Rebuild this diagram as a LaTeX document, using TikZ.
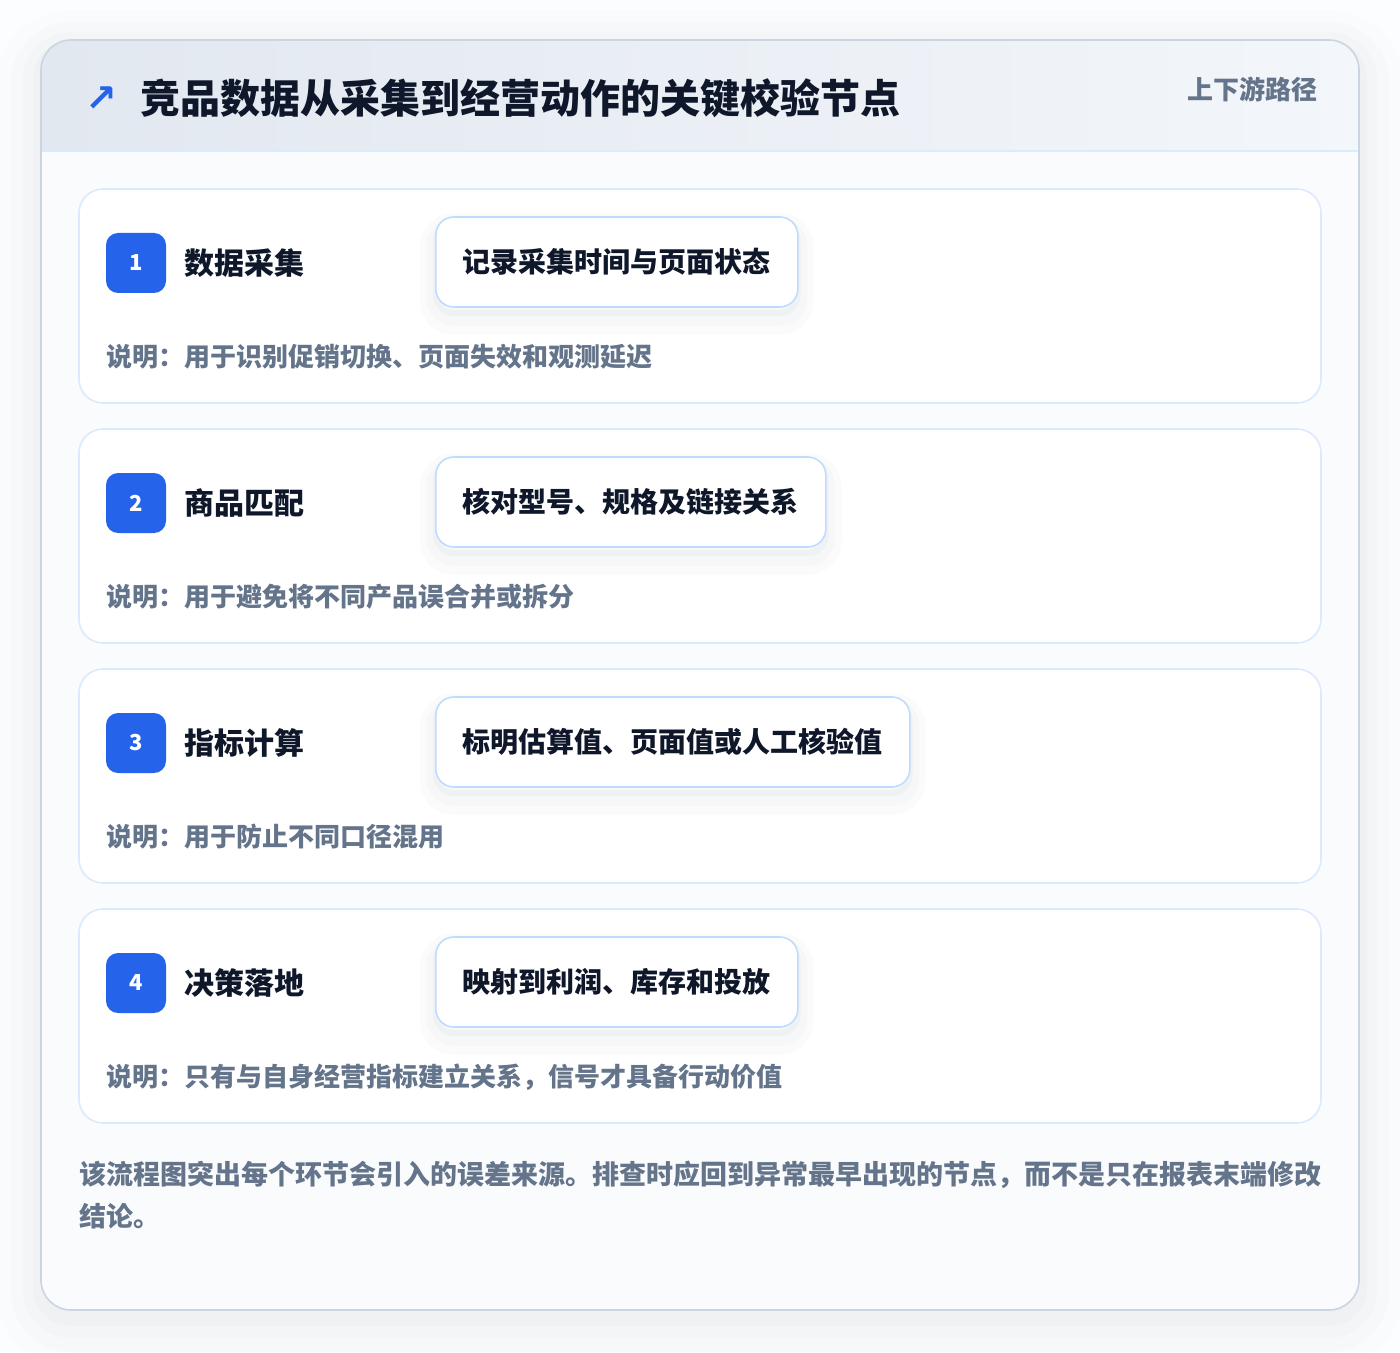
\documentclass[tikz,border=0pt]{standalone}
\usepackage{fontspec}
\setmainfont{Noto Sans CJK SC}
\newfontfamily\symfont{DejaVu Sans}
\usepackage{tikz}
\usetikzlibrary{positioning}

\definecolor{pagebg}{HTML}{FCFDFE}
\definecolor{bodybg}{HTML}{FAFBFD}
\definecolor{headl}{HTML}{E2E8F0}
\definecolor{headr}{HTML}{F3F6FA}
\definecolor{panelline}{HTML}{CBD5E1}
\definecolor{sepline}{HTML}{DBEAFE}
\definecolor{cardline}{HTML}{DBEAFE}
\definecolor{chipline}{HTML}{BFDBFE}
\definecolor{badgeblue}{HTML}{2563EB}
\definecolor{titleink}{HTML}{0F172A}
\definecolor{noteink}{HTML}{64748B}
\definecolor{shadowink}{HTML}{475569}

\begin{document}
\begin{tikzpicture}[x=0.5pt,y=-0.5pt,
panel/.style={fill=bodybg,rounded corners=15pt,minimum width=659pt,minimum height=635pt,inner sep=0pt,
  preaction={draw=shadowink,draw opacity=0.012,line width=44pt,transform canvas={yshift=-7pt}},
  preaction={draw=shadowink,draw opacity=0.014,line width=30pt,transform canvas={yshift=-6pt}},
  preaction={draw=shadowink,draw opacity=0.016,line width=18pt,transform canvas={yshift=-5pt}},
  preaction={draw=shadowink,draw opacity=0.02,line width=8pt,transform canvas={yshift=-4pt}}},
cardbox/.style={draw=cardline,line width=0.8pt,fill=white,rounded corners=12pt,minimum width=621pt,minimum height=107pt,inner sep=0pt},
badge/.style={fill=badgeblue,rounded corners=6pt,minimum size=30pt,inner sep=0pt,text=white,font=\bfseries\fontsize{11}{13}\selectfont},
steptitle/.style={anchor=west,inner sep=0pt,text=titleink,font=\bfseries\fontsize{15}{18}\selectfont},
chip/.style={draw=chipline,line width=0.8pt,fill=white,rounded corners=9pt,anchor=west,minimum height=45pt,inner xsep=13.5pt,
  text=titleink,font=\bfseries\fontsize{14}{17}\selectfont,
  preaction={draw=shadowink,draw opacity=0.018,line width=16pt,transform canvas={yshift=-6pt}},
  preaction={draw=shadowink,draw opacity=0.022,line width=9pt,transform canvas={yshift=-5pt}},
  preaction={draw=shadowink,draw opacity=0.03,line width=3pt,transform canvas={yshift=-3pt}}},
note/.style={anchor=west,inner sep=0pt,text=noteink,font=\bfseries\fontsize{13}{16}\selectfont}]

\fill[pagebg] (0,0) rectangle (1400,1352);
\useasboundingbox (0,0) rectangle (1400,1352);

% keret + fejlec
\node[panel] (panel) at (700,675) {};
\begin{scope}
\clip[rounded corners=15pt] (41,40) rectangle (1359,1310);
\shade[left color=headl,right color=headr] (41,40) rectangle (1359,151);
\end{scope}
\draw[sepline,line width=0.8pt] (41,151) -- (1359,151);
\draw[panelline,line width=0.8pt,rounded corners=15pt] (41,40) rectangle (1359,1310);

\node[text=badgeblue,font=\symfont\bfseries\fontsize{19}{20}\selectfont,inner sep=0pt] (icon) at (101,99) {↗};
\node[anchor=west,inner sep=0pt,text=titleink,font=\bfseries\fontsize{20}{24}\selectfont] (title) at (140,98) {竞品数据从采集到经营动作的关键校验节点};
\node[anchor=east,inner sep=0pt,text=noteink,font=\bfseries\fontsize{13}{16}\selectfont] (tag) at (1318,89) {上下游路径};

% 1. lepes
\node[cardbox] (card1) at (700,296) {};
\node[badge] (num1) at (136,263) {1};
\node[steptitle,right=9pt of num1] (name1) {数据采集};
\node[chip] (chip1) at (435,262) {记录采集时间与页面状态};
\node[note] (note1) at (106,357) {说明：用于识别促销切换、页面失效和观测延迟};

% 2. lepes
\node[cardbox] (card2) at (700,536) {};
\node[badge] (num2) at (136,503) {2};
\node[steptitle,right=9pt of num2] (name2) {商品匹配};
\node[chip] (chip2) at (435,502) {核对型号、规格及链接关系};
\node[note] (note2) at (106,597) {说明：用于避免将不同产品误合并或拆分};

% 3. lepes
\node[cardbox] (card3) at (700,776) {};
\node[badge] (num3) at (136,743) {3};
\node[steptitle,right=9pt of num3] (name3) {指标计算};
\node[chip] (chip3) at (435,742) {标明估算值、页面值或人工核验值};
\node[note] (note3) at (106,837) {说明：用于防止不同口径混用};

% 4. lepes
\node[cardbox] (card4) at (700,1016) {};
\node[badge] (num4) at (136,983) {4};
\node[steptitle,right=9pt of num4] (name4) {决策落地};
\node[chip] (chip4) at (435,982) {映射到利润、库存和投放};
\node[note] (note4) at (106,1077) {说明：只有与自身经营指标建立关系，信号才具备行动价值};

% lablec
\node[anchor=north west,inner sep=0pt,align=left,text=noteink,font=\bfseries\fontsize{13.5}{21}\selectfont] (foot) at (79,1161)
  {该流程图突出每个环节会引入的误差来源。排查时应回到异常最早出现的节点，而不是只在报表末端修改\\结论。};
\end{tikzpicture}
\end{document}
